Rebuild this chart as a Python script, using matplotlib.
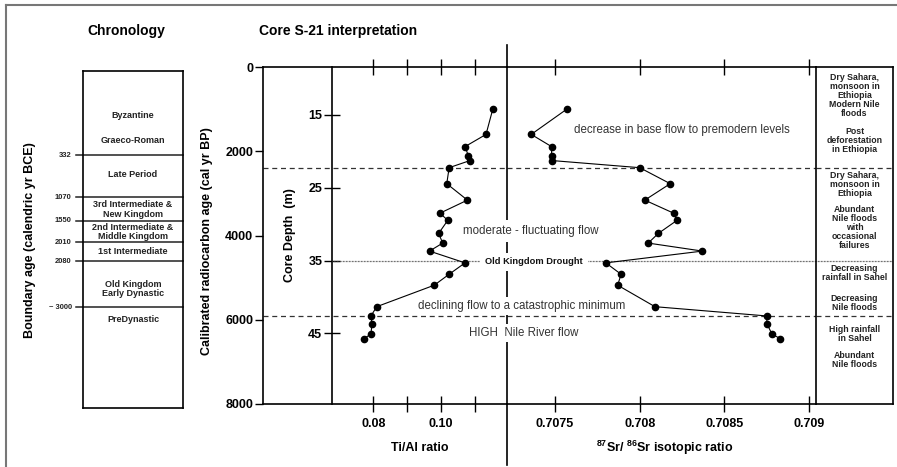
import matplotlib
matplotlib.use('Agg')
import matplotlib.pyplot as plt
from matplotlib.lines import Line2D

plt.rcParams['font.family'] = ['Liberation Sans', 'DejaVu Sans']
plt.rcParams['font.weight'] = 'bold'
plt.rcParams['axes.labelweight'] = 'bold'
plt.rcParams['mathtext.fontset'] = 'custom'
plt.rcParams['mathtext.rm'] = 'Liberation Sans:bold'
plt.rcParams['mathtext.default'] = 'rm'

# ---------------- data ----------------
age_bp = [1000, 1600, 1890, 2110, 2220, 2390, 2770, 3160, 3470, 3640, 3950,
          4180, 4370, 4650, 4920, 5180, 5690, 5910, 6090, 6340, 6450]
ti_al = [0.1153, 0.1133, 0.1071, 0.1081, 0.1086, 0.1024, 0.1017, 0.1078,
         0.0997, 0.1020, 0.0993, 0.1005, 0.0966, 0.1071, 0.1024, 0.0980,
         0.0810, 0.0793, 0.0796, 0.0793, 0.0772]
sr_ratio = [0.70757, 0.70736, 0.70748, 0.70748, 0.70748, 0.70800, 0.70818,
            0.70803, 0.70820, 0.70822, 0.70811, 0.70805, 0.70837, 0.70780,
            0.70789, 0.70787, 0.70809, 0.70875, 0.70875, 0.70878, 0.70883]

age_ticks = [0, 2000, 4000, 6000, 8000]
depth_ticks = [15, 25, 35, 45]
ti_ticks = [0.08, 0.09, 0.10, 0.11]
ti_ticklabels = ['0.08', '', '0.10', '']
sr_ticks = [0.7075, 0.708, 0.7085, 0.709]
sr_ticklabels = ['0.7075', '0.708', '0.7085', '0.709']

# depth-age relation of the core (age = slope*depth + intercept)
depth_slope, depth_intercept = 172.9, -1456.0

zone_bounds_bp = [2400, 5910]
drought_bp = 4600

# chronology panel (schematic positions on the cal yr BP scale)
boundary_pos = [2000, 3000, 3550, 4070, 4510, 5600]
boundary_labels = ['332', '1070', '1550', '2010', '2080', '~ 3000']
period_names = ['Byzantine', 'Graeco-Roman', 'Late Period',
                '3rd Intermediate &\nNew Kingdom',
                '2nd Intermediate &\nMiddle Kingdom',
                '1st Intermediate', 'Old Kingdom\nEarly Dynastic', 'PreDynastic']
period_pos = [1050, 1659, 2455, 3289, 3815, 4273, 5168, 5891]

# interpretation column
interp_texts = ['Dry Sahara,\nmonsoon in\nEthiopia\nModern Nile\nfloods',
                'Post\ndeforestation\nin Ethiopia',
                'Dry Sahara,\nmonsoon in\nEthiopia',
                'Abundant\nNile floods\nwith\noccasional\nfailures',
                'Decreasing\nrainfall in Sahel',
                'Decreasing\nNile floods',
                'High rainfall\nin Sahel',
                'Abundant\nNile floods']
interp_pos = [665, 1752, 2790, 3800, 4886, 5602, 6331, 6948]

# ---------------- figure ----------------
W, H = 897, 467
fig = plt.figure(figsize=(W / 100, H / 100), dpi=100)


def fbox(l, t, r, b):
    return [l / W, 1 - b / H, (r - l) / W, (b - t) / H]


def fx(x):
    return x / W


def fy(y):
    return 1 - y / H


ax_ti = fig.add_axes(fbox(263, 67, 507, 404))
ax_sr = fig.add_axes(fbox(507, 67, 816, 404))
ax_col = fig.add_axes(fbox(816, 67, 893, 404))
ax_chr = fig.add_axes(fbox(82.7, 70.7, 183.3, 408.3))

for ax in (ax_ti, ax_sr, ax_col, ax_chr):
    ax.set_facecolor('none')
    ax.set_ylim(8000, 0)
    for s in ax.spines.values():
        s.set_linewidth(1.2)

# ---- Ti/Al panel ----
ax_ti.set_xlim(0.0474, 0.1195)
ax_ti.spines['right'].set_visible(False)
ax_ti.set_yticks(age_ticks)
ax_ti.set_yticklabels([str(a) for a in age_ticks])
ax_ti.tick_params(axis='y', direction='out', length=6, width=1, labelsize=9, pad=1)
ax_ti.set_xticks(ti_ticks)
ax_ti.set_xticklabels(ti_ticklabels)
ax_ti.tick_params(axis='x', which='both', direction='inout', length=12, width=1,
                  labelsize=9, top=True, bottom=True, pad=4)
ax_ti.plot(ti_al, age_bp, '-o', color='k', lw=0.8, ms=4.5, clip_on=False, zorder=4)

depth_loc = (332 - 263) / (507 - 263)
sec = ax_ti.secondary_yaxis(depth_loc,
                            functions=(lambda a: (a - depth_intercept) / depth_slope,
                                       lambda d: d * depth_slope + depth_intercept))
sec.set_yticks(depth_ticks)
sec.tick_params(direction='inout', length=12, width=1, labelsize=9, pad=1)
sec.spines['left'].set_linewidth(1.2)

# ---- Sr panel ----
ax_sr.set_xlim(0.707217, 0.70904)
ax_sr.spines['right'].set_visible(False)
ax_sr.set_yticks([])
ax_sr.set_xticks(sr_ticks)
ax_sr.set_xticklabels(sr_ticklabels)
ax_sr.tick_params(axis='x', direction='inout', length=12, width=1, labelsize=9,
                  top=True, bottom=True, pad=4)
ax_sr.plot(sr_ratio, age_bp, '-o', color='k', lw=0.8, ms=4.5, clip_on=False, zorder=4)
# extension of the central divider above and below the panels
ax_sr.plot([0, 0], [1, 1.065], transform=ax_sr.transAxes, color='k', lw=1.2, clip_on=False)
ax_sr.plot([0, 0], [-0.181, 0], transform=ax_sr.transAxes, color='k', lw=1.2, clip_on=False)

# ---- interpretation column ----
ax_col.set_xticks([])
ax_col.set_yticks([])
for txt, pos in zip(interp_texts, interp_pos):
    ax_col.text(0.5, pos, txt, transform=ax_col.get_yaxis_transform(), ha='center',
                va='center', fontsize=6.3, fontweight='bold', linespacing=1.0,
                color='#222222')

# ---- zone boundaries ----
for b in zone_bounds_bp:
    for ax in (ax_ti, ax_sr, ax_col):
        ax.axhline(b, color='#333333', lw=0.9, ls=(0, (4, 3)), zorder=2)
ax_ti.axhline(drought_bp, xmin=depth_loc, xmax=1, color='#444444', lw=0.9,
              ls=(0, (0.6, 0.6)), zorder=2)
for ax in (ax_sr, ax_col):
    ax.axhline(drought_bp, color='#444444', lw=0.9, ls=(0, (0.6, 0.6)), zorder=2)

# ---- chronology ----
ax_chr.set_xlim(0, 1)
ax_chr.set_xticks([])
ax_chr.set_yticks([])
ytr = ax_chr.get_yaxis_transform()
for b, lab in zip(boundary_pos, boundary_labels):
    ax_chr.plot([-0.067, 1], [b, b], transform=ytr, color='#222222', lw=1.1, clip_on=False)
    ax_chr.text(-0.11, b, lab, transform=ytr, ha='right', va='center', fontsize=5.4,
                fontweight='bold', color='#222222')
for name, pos in zip(period_names, period_pos):
    ax_chr.text(0.5, pos, name, transform=ytr, ha='center', va='center', fontsize=6.5,
                fontweight='bold', linespacing=1.05, color='#222222')

# ---- titles and labels ----
fig.text(fx(126), fy(31), 'Chronology', ha='center', va='center', fontsize=10, fontweight='bold')
fig.text(fx(259), fy(31), 'Core S-21 interpretation', ha='left', va='center', fontsize=10,
         fontweight='bold')
fig.text(fx(30), fy(240), 'Boundary age (calendric yr BCE)', rotation=90, ha='center',
         va='center', fontsize=9, fontweight='bold')
fig.text(fx(207), fy(241), 'Calibrated radiocarbon age (cal yr BP)', rotation=90,
         ha='center', va='center', fontsize=9, fontweight='bold')
fig.text(fx(290), fy(235), 'Core Depth  (m)', rotation=90, ha='center', va='center',
         fontsize=9, fontweight='bold')
fig.text(fx(420), fy(448), 'Ti/Al ratio', ha='center', va='center', fontsize=9,
         fontweight='bold')
fig.text(fx(665), fy(448), r'$^{87}$Sr/ $^{86}$Sr isotopic ratio', ha='center',
         va='center', fontsize=9, fontweight='bold')

# ---- annotations ----
fig.text(fx(682), fy(130), 'decrease in base flow to premodern levels', ha='center',
         va='center', fontsize=8.3, fontweight='normal', color='#333333')
fig.text(fx(531), fy(231), 'moderate - fluctuating flow', ha='center', va='center',
         fontsize=8.3, fontweight='normal', color='#333333',
         bbox=dict(facecolor='white', edgecolor='none', pad=3.5))
fig.text(fx(534), fy(262), 'Old Kingdom Drought', ha='center', va='center',
         fontsize=6.7, fontweight='bold', color='#111111',
         bbox=dict(facecolor='white', edgecolor='none', pad=3.5))
fig.text(fx(522), fy(306), 'declining flow to a catastrophic minimum', ha='center',
         va='center', fontsize=8.3, fontweight='normal', color='#333333',
         bbox=dict(facecolor='white', edgecolor='none', pad=2.5))
fig.text(fx(523.5), fy(333), 'HIGH  Nile River flow', ha='center', va='center',
         fontsize=8.3, fontweight='normal', color='#333333',
         bbox=dict(facecolor='white', edgecolor='none', pad=2.5))

# ---- outer frame (left and top) ----
fig.add_artist(Line2D([fx(6), fx(6)], [0, fy(5)], transform=fig.transFigure,
                      color='#777777', lw=1.5))
fig.add_artist(Line2D([fx(6), 1], [fy(5), fy(5)], transform=fig.transFigure,
                      color='#777777', lw=1.5))

fig.savefig('out.png', dpi=100)
